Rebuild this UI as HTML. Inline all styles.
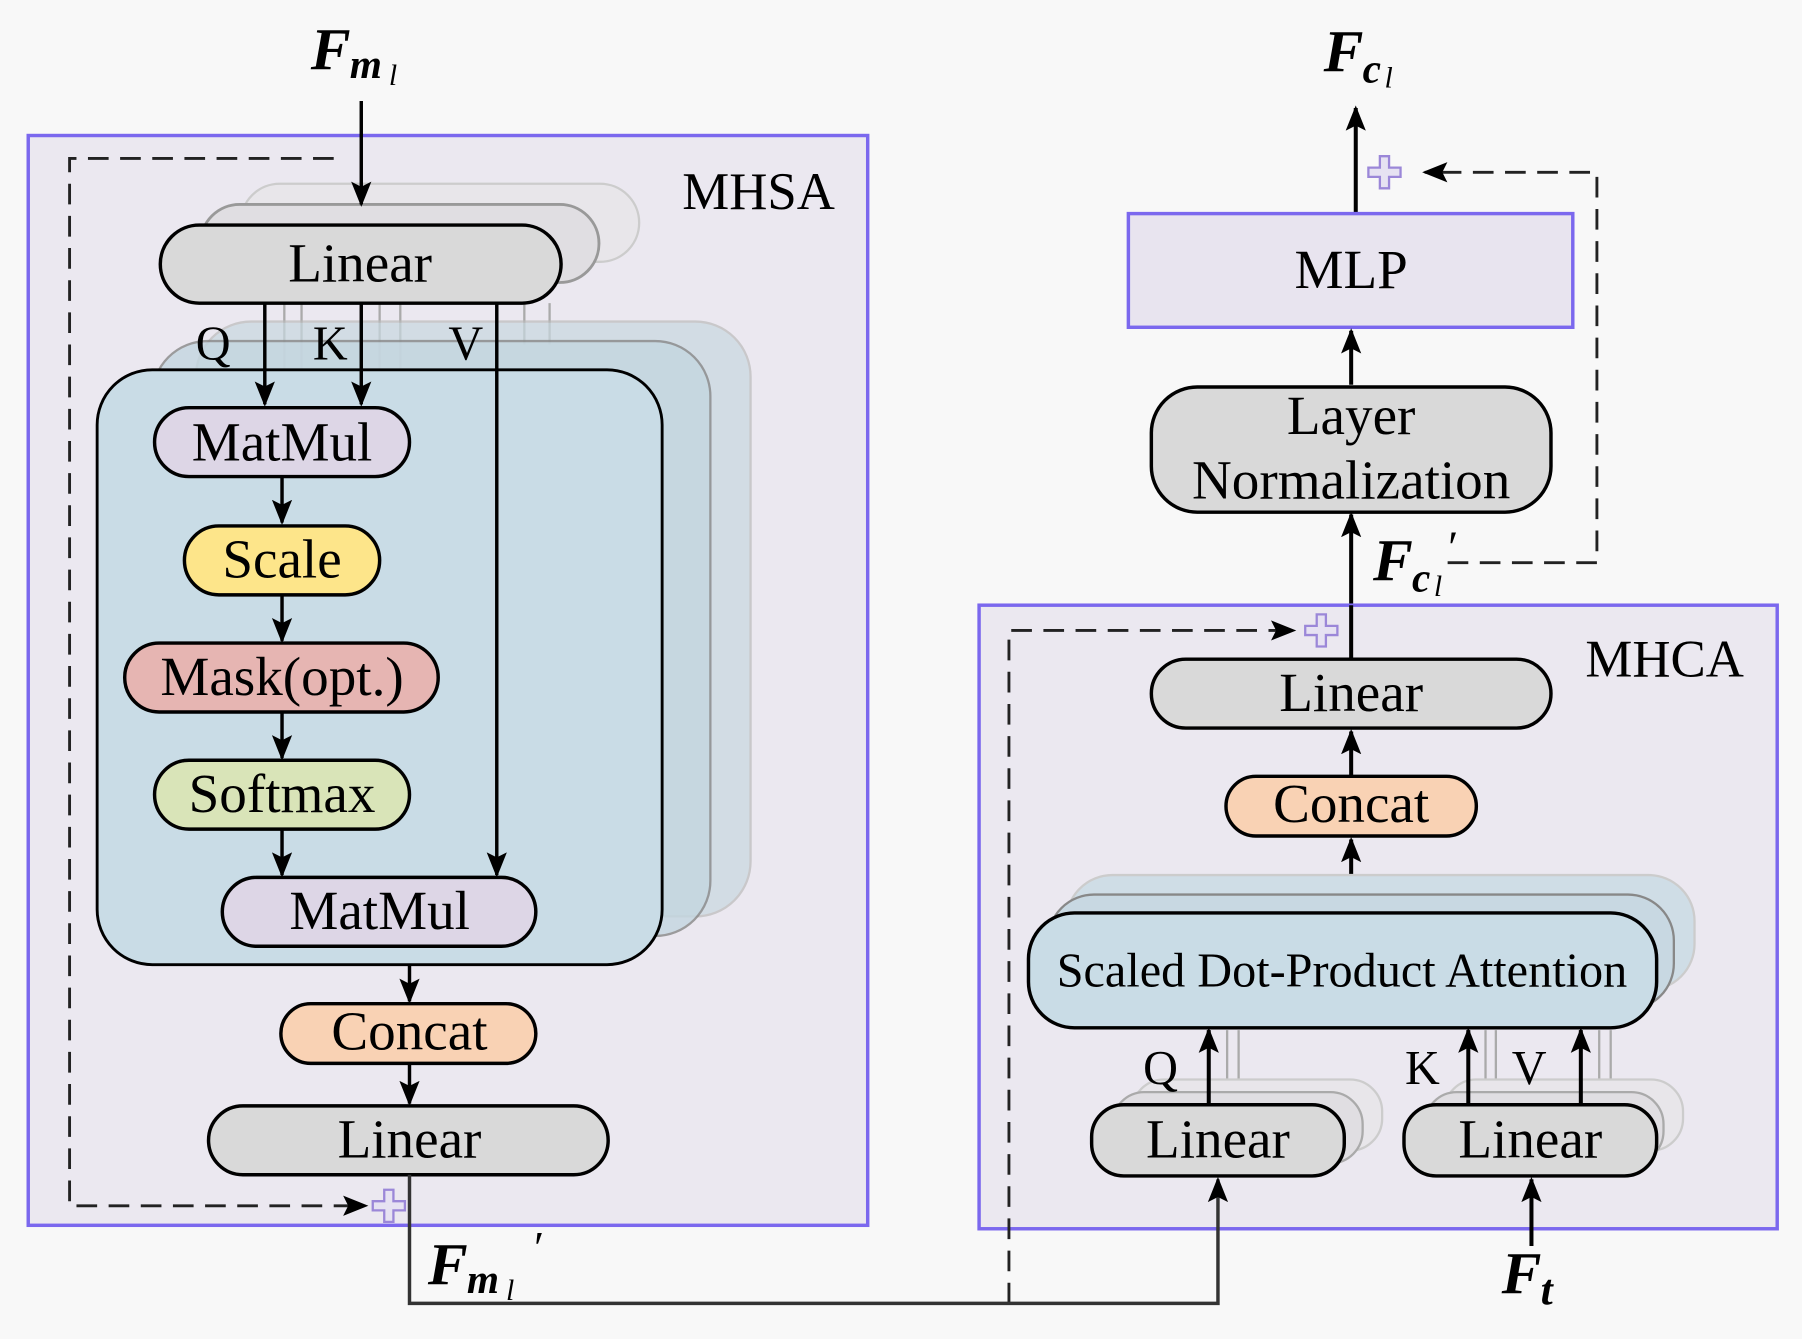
<!DOCTYPE html>
<html><head><meta charset="utf-8"><style>
html,body{margin:0;padding:0;background:#f8f8f8;}
svg{display:block;}
text{font-family:"Liberation Serif",serif;fill:#000;}
.t{font-size:48px;text-anchor:middle;}
.m{font-weight:bold;font-style:italic;}
</style></head><body>
<svg width="1802" height="1339" viewBox="0 0 1568 1166" xmlns="http://www.w3.org/2000/svg">
<defs>
<marker id="b" viewBox="0 0 10 10" refX="9" refY="5" markerWidth="22" markerHeight="22" orient="auto" markerUnits="userSpaceOnUse"><path d="M0,1 L10,5 L0,9 L2,5 z" fill="#000"/></marker>
<path id="pl" d="M-4,-14 H4 V-4 H14 V4 H4 V14 H-4 V4 H-14 V-4 H-4 Z" fill="#e6e2f2" stroke="#9b87d8" stroke-width="2"/>
</defs>
<rect width="1568" height="1166" fill="#f8f8f8"/>

<!-- MHSA -->
<rect x="24" y="118" width="731" height="949" fill="#ebe8f0" stroke="#7b68ee" stroke-width="3"/>
<text x="660" y="182" class="t" style="font-size:46px">MHSA</text>
<text x="270" y="60" class="m" style="font-size:52px">F</text><text x="304" y="68" class="m" style="font-size:36px">m</text><text x="338" y="74" style="font-size:26px;font-style:italic">l</text>
<path d="M290 138 H60 V1050 H318" stroke="#222" stroke-width="2.5" fill="none" stroke-dasharray="18,10" marker-end="url(#b)"/>
<use href="#pl" x="338" y="1050"/>

<!-- ghost linears -->
<rect x="209" y="160" width="347" height="68" rx="34" fill="#e8e6ea" stroke="#ccc" stroke-width="2"/>
<rect x="174" y="178" width="347" height="68" rx="34" fill="#e0dee2" stroke="#999" stroke-width="2.5"/>
<path d="M314 88 V178" stroke="#000" stroke-width="3" marker-end="url(#b)"/>
<g stroke="#aaa" stroke-width="2"><path d="M247 264V330M262 264V330M330 264V330M348 264V330M456 264V300M478 264V300"/></g>
<rect x="170" y="280" width="483" height="518" rx="48" fill="#c8d8e0" stroke="#bbb" stroke-width="2" opacity="0.7" />
<rect x="132" y="297" width="486" height="518" rx="48" fill="#c4d6e0" stroke="#888" stroke-width="2" opacity="0.8"/>
<rect x="84" y="322" width="492" height="518" rx="48" fill="#c9dce6" stroke="#000" stroke-width="2.5"/>

<rect x="139" y="196" width="349" height="68" rx="34" fill="#d9d9d9" stroke="#000" stroke-width="3"/>
<text x="313" y="245" class="t">Linear</text>

<g stroke="#000" stroke-width="3" fill="none">
<path d="M230 264 V352" marker-end="url(#b)"/>
<path d="M314 264 V352" marker-end="url(#b)"/>
<path d="M432 264 V762" marker-end="url(#b)"/>
<path d="M245 415 V455" marker-end="url(#b)"/>
<path d="M245 518 V558" marker-end="url(#b)"/>
<path d="M245 620 V660" marker-end="url(#b)"/>
<path d="M245 722 V762" marker-end="url(#b)"/>
<path d="M356 840 V872" marker-end="url(#b)"/>
<path d="M356 926 V961" marker-end="url(#b)"/>
</g>
<text x="185" y="313" class="t" style="font-size:42px">Q</text>
<text x="287" y="313" class="t" style="font-size:42px">K</text>
<text x="405" y="313" class="t" style="font-size:42px">V</text>

<rect x="134" y="355" width="222" height="60" rx="30" fill="#ddd6e6" stroke="#000" stroke-width="3"/>
<text x="245" y="401" class="t">MatMul</text>
<rect x="160" y="458" width="170" height="60" rx="30" fill="#fde58a" stroke="#000" stroke-width="3"/>
<text x="245" y="503" class="t">Scale</text>
<rect x="108" y="560" width="273" height="60" rx="30" fill="#e6b5b2" stroke="#000" stroke-width="3"/>
<text x="245" y="605" class="t">Mask(opt.)</text>
<rect x="134" y="662" width="222" height="60" rx="30" fill="#d9e4b8" stroke="#000" stroke-width="3"/>
<text x="245" y="707" class="t">Softmax</text>
<rect x="193" y="764" width="273" height="60" rx="30" fill="#ddd6e6" stroke="#000" stroke-width="3"/>
<text x="330" y="809" class="t">MatMul</text>
<rect x="244" y="874" width="222" height="52" rx="26" fill="#f9d2b4" stroke="#000" stroke-width="3"/>
<text x="356" y="914" class="t">Concat</text>
<rect x="181" y="963" width="348" height="60" rx="30" fill="#d9d9d9" stroke="#000" stroke-width="3"/>
<text x="356" y="1008" class="t">Linear</text>

<text x="372" y="1118" class="m" style="font-size:52px">F</text><text x="406" y="1126" class="m" style="font-size:36px">m</text><text x="440" y="1132" style="font-size:26px;font-style:italic">l</text><text x="462" y="1100" style="font-size:40px;font-style:italic">′</text>

<!-- right -->
<text x="1152" y="62" class="m" style="font-size:52px">F</text><text x="1186" y="72" class="m" style="font-size:36px">c</text><text x="1205" y="76" style="font-size:26px;font-style:italic">l</text>
<path d="M1180 186 V94" stroke="#000" stroke-width="3.5" marker-end="url(#b)"/>
<use href="#pl" x="1205" y="150"/>
<path d="M1260 490 H1390 V150 H1240" stroke="#222" stroke-width="2.5" fill="none" stroke-dasharray="18,10" marker-end="url(#b)"/>
<rect x="982" y="186" width="387" height="99" fill="#e8e4ef" stroke="#7b68ee" stroke-width="3"/>
<text x="1176" y="251" class="t">MLP</text>
<path d="M1176 335 V288" stroke="#000" stroke-width="3.5" marker-end="url(#b)"/>
<rect x="1002" y="337" width="348" height="109" rx="40" fill="#d9d9d9" stroke="#000" stroke-width="3"/>
<text x="1176" y="378" class="t">Layer</text>
<text x="1176" y="434" class="t">Normalization</text>
<path d="M1176 575 V448" stroke="#000" stroke-width="3.5" marker-end="url(#b)"/>
<text x="1195" y="505" class="m" style="font-size:52px">F</text><text x="1229" y="515" class="m" style="font-size:36px">c</text><text x="1248" y="519" style="font-size:26px;font-style:italic">l</text><text x="1258" y="490" style="font-size:40px;font-style:italic">′</text>

<!-- MHCA -->
<rect x="852" y="527" width="695" height="543" fill="#ebe8f0" stroke="#7b68ee" stroke-width="3"/>
<text x="1449" y="589" class="t" style="font-size:46px">MHCA</text>
<path d="M878 1135 V549 H1126" stroke="#222" stroke-width="2.5" fill="none" stroke-dasharray="18,10" marker-end="url(#b)"/>
<use href="#pl" x="1150" y="549"/>
<path d="M1176 527 V575" stroke="#000" stroke-width="3.5"/>
<rect x="1002" y="574" width="348" height="60" rx="30" fill="#d9d9d9" stroke="#000" stroke-width="3"/>
<text x="1176" y="619" class="t">Linear</text>
<path d="M1176 676 V637" stroke="#000" stroke-width="3.5" marker-end="url(#b)"/>
<rect x="1067" y="676" width="218" height="52" rx="26" fill="#f9d2b4" stroke="#000" stroke-width="3"/>
<text x="1176" y="716" class="t">Concat</text>
<path d="M1176 795 V731" stroke="#000" stroke-width="3.5" marker-end="url(#b)"/>
<rect x="928" y="762" width="547" height="100" rx="40" fill="#cfdde6" stroke="#ccc" stroke-width="2"/>
<rect x="912" y="779" width="545" height="100" rx="40" fill="#c8d8e2" stroke="#888" stroke-width="2"/>
<rect x="895" y="795" width="547" height="100" rx="40" fill="#c9dce6" stroke="#000" stroke-width="3"/>
<text x="1168" y="859" class="t" style="font-size:42px">Scaled Dot-Product Attention</text>

<g stroke="#aaa" stroke-width="2" fill="none"><path d="M1068 897V955M1078 897V955M1293 897V955M1302 897V955M1392 897V955M1402 897V955"/></g>
<rect x="985" y="940" width="218" height="62" rx="28" fill="#e8e6ea" stroke="#ccc" stroke-width="2"/>
<rect x="968" y="951" width="218" height="62" rx="28" fill="#e0dee2" stroke="#aaa" stroke-width="2"/>
<rect x="1257" y="940" width="208" height="62" rx="28" fill="#e8e6ea" stroke="#ccc" stroke-width="2"/>
<rect x="1240" y="951" width="208" height="62" rx="28" fill="#e0dee2" stroke="#aaa" stroke-width="2"/>
<rect x="950" y="962" width="220" height="62" rx="28" fill="#d9d9d9" stroke="#000" stroke-width="3"/>
<text x="1060" y="1008" class="t">Linear</text>
<rect x="1222" y="962" width="220" height="62" rx="28" fill="#d9d9d9" stroke="#000" stroke-width="3"/>
<text x="1332" y="1008" class="t">Linear</text>
<g stroke="#000" stroke-width="3.5" fill="none">
<path d="M1052 962 V897" marker-end="url(#b)"/>
<path d="M1278 962 V897" marker-end="url(#b)"/>
<path d="M1376 962 V897" marker-end="url(#b)"/>
<path d="M1333 1085 V1027" marker-end="url(#b)"/>
</g>
<!-- connector from MHSA to MHCA -->
<path d="M356 1023 V1135 H1060 V1027" stroke="#333" stroke-width="3" fill="none" marker-end="url(#b)"/>
<text x="1010" y="944" class="t" style="font-size:42px">Q</text>
<text x="1238" y="944" class="t" style="font-size:42px">K</text>
<text x="1331" y="944" class="t" style="font-size:42px">V</text>
<text x="1307" y="1126" class="m" style="font-size:52px">F</text><text x="1341" y="1136" class="m" style="font-size:38px">t</text>
</svg>
</body></html>
